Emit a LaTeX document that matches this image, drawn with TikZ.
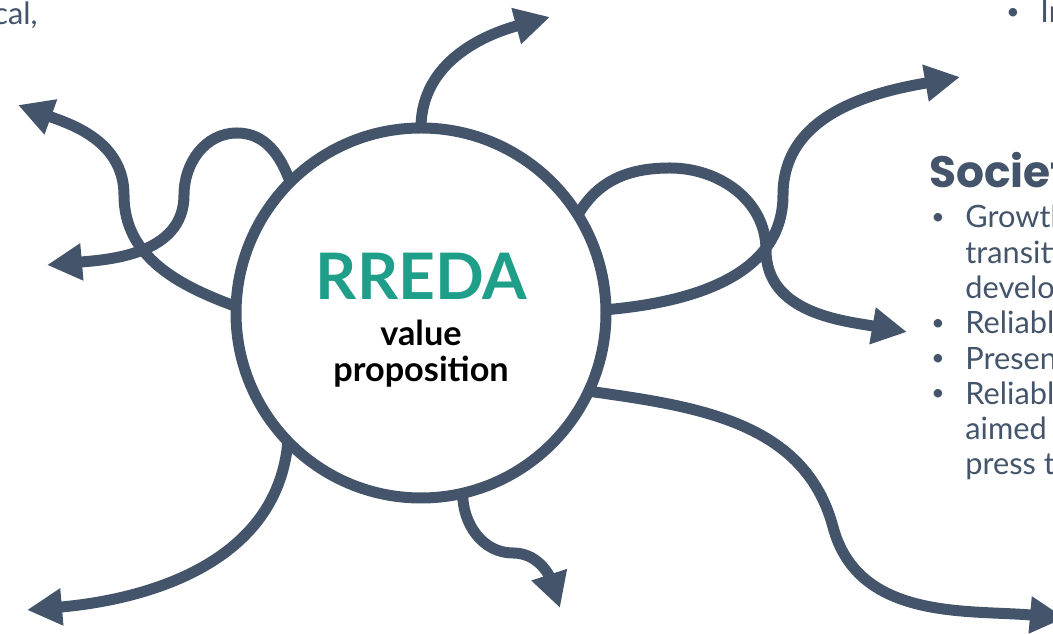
\documentclass[tikz,border=0pt]{standalone}
\usepackage{fontspec}
\setmainfont{Lato}
\newfontfamily\headfont{Poppins}
\usetikzlibrary{arrows.meta,positioning}
\definecolor{Slate}{HTML}{44546A}
\definecolor{Teal}{HTML}{1F9E89}
\newcommand{\itembullet}{\makebox[0.7cm][l]{\hspace*{0.02cm}\raisebox{0.12em}{\fontsize{13}{13}\selectfont\textbullet}}}
\newcommand{\itemgap}{\hspace*{0.7cm}}

\begin{document}
\begin{tikzpicture}[
  hub/.style={circle,draw=Slate,line width=0.22cm,minimum size=7.4cm,inner sep=0pt,outer sep=0pt},
  link/.style={draw=Slate,line width=0.22cm,-{Triangle[length=0.7cm,width=0.7cm]}},
  body/.style={Slate,inner sep=0pt,font=\fontsize{17.5}{20.1}\selectfont},
  head/.style={Slate,inner sep=0pt,font=\headfont\bfseries\fontsize{25}{28}\selectfont}
]
\useasboundingbox (0,0) rectangle (21.06,12.68);
\clip (0,0) rectangle (21.06,12.68);

% central circle and its labels
\node[hub] (rreda) at (8.42,6.42) {};
\node[Teal,inner sep=0pt,font=\bfseries\fontsize{36.5}{40}\selectfont,anchor=base] (title) at (8.43,6.68) {RREDA};
\node[inner sep=0pt,font=\bfseries\fontsize{19.5}{21}\selectfont,align=center,anchor=base] (sub) at (8.42,5.04) {value\\proposition};

% arrow ends and bends
\coordinate (topTip) at (11.00,12.34);
\coordinate (nwTip) at (0.36,10.58);
\coordinate (wTip) at (0.94,7.38);
\coordinate (neTip) at (19.20,11.14);
\coordinate (eTip) at (18.14,6.04);
\coordinate (seTip) at (21.30,0.32);
\coordinate (sTip) at (11.20,0.52);
\coordinate (swTip) at (0.54,0.48);
\coordinate (aBend) at (2.48,8.78);
\coordinate (bTop) at (4.74,10.02);
\coordinate (bDip) at (3.68,8.78);
\coordinate (cBend) at (15.66,8.78);
\coordinate (dTop) at (13.40,9.32);
\coordinate (dBend) at (15.32,7.68);
\coordinate (eBend) at (16.66,2.14);
\coordinate (fBend) at (10.26,1.62);

% connectors
\draw[link] (rreda.90) to[out=90,in=195] (topTip);
\draw[link] (rreda.178) to[out=160,in=-90] (aBend) to[out=90,in=340] (nwTip);
\draw[link] (rreda.135) to[out=110,in=0] (bTop) to[out=180,in=90] (bDip) to[out=-90,in=5] (wTip);
\draw[link] (rreda.1) to[out=5,in=-90] (cBend) to[out=90,in=190] (neTip);
\draw[link] (rreda.32) to[out=60,in=180] (dTop) to[out=0,in=90] (dBend) to[out=-90,in=170] (eTip);
\draw[link] (rreda.-25) to[out=-8,in=105] (eBend) to[out=-75,in=175] (seTip);
\draw[link] (rreda.283) to[out=-90,in=180] (fBend) to[out=0,in=108] (sTip);
\draw[link] (rreda.224) to[out=-95,in=5] (swTip);

% side texts
\node[body,anchor=base east] (leftNote) at (0.76,12.18) {cal,};
\node[body,anchor=base west] (topNote) at (20.10,12.22) {\itembullet In};
\node[head,anchor=base west] (society) at (18.58,8.92) {Societ};
\node[body,anchor=base west,align=left] (societyList) at (18.60,3.18) {%
  \itembullet Growth\\
  \itemgap transiti\\
  \itemgap develo\\
  \itembullet Reliabl\\
  \itembullet Presen\\
  \itembullet Reliabl\\
  \itemgap aimed\\
  \itemgap press t};
\end{tikzpicture}
\end{document}
